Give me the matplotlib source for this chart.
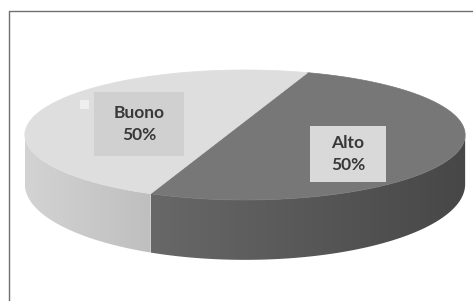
import numpy as np
import matplotlib.pyplot as plt
from matplotlib.patches import Polygon, Rectangle

labels = ['Alto', 'Buono']
values = [50, 50]
pct_labels = ['50%', '50%']
top_colors = ['#777777', '#dedede']
side_colors = [('#686868', '#474747'), ('#d3d3d3', '#bfbfbf')]
box_colors = ['#d9d9d9', '#d0d0d0']
label_xy = [(348, 154), (139, 124)]
box_size = [(76, 56), (90, 64)]

W, H = 473, 301
cx, cy = 245, 121      # projected centre of the pie
sx, sy = 215, 62       # radii
k = 0.215              # perspective strength
d0 = 47                # thickness
start = 69.5


def proj(phi, r=1.0, down=0.0):
    t = np.radians(phi)
    X, Y = r * np.cos(t), r * np.sin(t)
    w = 1 + k * Y
    return cx + sx * X / w, cy + (-sy * Y + down) / w


def grad_fill(ax, pts, c0, c1, zorder):
    poly = Polygon(pts, closed=True, facecolor='none', edgecolor='none')
    ax.add_patch(poly)
    x0, x1 = pts[:, 0].min(), pts[:, 0].max()
    y0, y1 = pts[:, 1].min(), pts[:, 1].max()
    a = np.array(plt.matplotlib.colors.to_rgb(c0))
    b = np.array(plt.matplotlib.colors.to_rgb(c1))
    t = np.linspace(0, 1, 200)[None, :, None]
    img = a + (b - a) * t
    im = ax.imshow(img, extent=(x0, x1, y1, y0), aspect='auto',
                   interpolation='bilinear', zorder=zorder)
    im.set_clip_path(poly)


fig = plt.figure(figsize=(4.73, 3.01), dpi=100)
ax = fig.add_axes([0, 0, 1, 1])
ax.set_xlim(0, W)
ax.set_ylim(H, 0)
ax.axis('off')

# slice angle ranges (clockwise from start)
tot = sum(values)
bounds = []
a = start
for v in values:
    b = a - 360 * v / tot
    bounds.append((b, a))
    a = b

# soft shadow under the pie
ph = np.linspace(-170, -10, 200)
sh = np.array([proj(p, 0.97, d0 + 2) for p in ph])
ax.add_patch(Polygon(np.vstack([sh, np.array([proj(p, 0.9, d0 - 20) for p in ph[::-1]])]),
                     facecolor='#f1f1f1', edgecolor='none', zorder=1))

# sides
lim = np.degrees(np.arcsin(k))
near_lo, near_hi = -180 + lim, -lim
for (lo, hi), (c0, c1) in zip(bounds, side_colors):
    for shift in (0, -360, 360):
        l2, h2 = max(lo, near_lo + shift), min(hi, near_hi + shift)
        if h2 <= l2:
            continue
        ph = np.linspace(l2, h2, 120)
        top = np.array([proj(p) for p in ph])
        bot = np.array([proj(p, 1.0, d0) for p in ph[::-1]])
        grad_fill(ax, np.vstack([top, bot]), c0, c1, 2)

# top faces
for (lo, hi), col in zip(bounds, top_colors):
    ph = np.linspace(lo, hi, 200)
    pts = np.vstack([[proj(0, 0.0)], np.array([proj(p) for p in ph])])
    ax.add_patch(Polygon(pts, closed=True, facecolor=col, edgecolor=col,
                         lw=0.5, zorder=3))

# labels
for lab, pct, (x, y), (bw, bh), bc in zip(labels, pct_labels, label_xy,
                                          box_size, box_colors):
    ax.add_patch(Rectangle((x - bw / 2, y - bh / 2), bw, bh,
                           facecolor=bc, edgecolor='none', zorder=4))
    ax.text(x, y - 11.5, lab, ha='center', va='center', fontsize=12.5,
            fontfamily='Lato', fontweight='bold', color='#383838', zorder=5)
    ax.text(x, y + 11.5, pct, ha='center', va='center', fontsize=12.5,
            fontfamily='Lato', fontweight='bold', color='#383838', zorder=5)

# small legend key remnant
ax.add_patch(Rectangle((80, 100), 9, 9, facecolor='#efefef',
                       edgecolor='none', zorder=4))

# chart frame
ax.plot([9, 9, W], [H, 11, 11], color='#707070', lw=1.0, zorder=6)

fig.savefig('out.png', dpi=100)
